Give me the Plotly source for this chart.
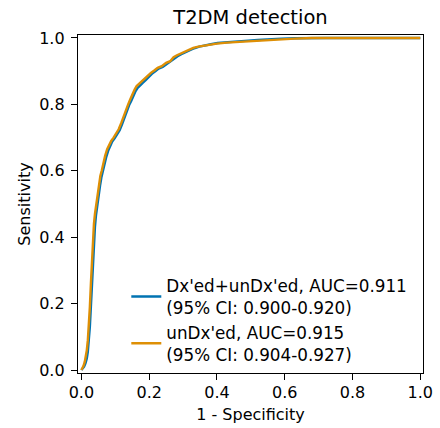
import plotly.graph_objects as go

# Dx'ed+unDx'ed ROC curve
fpr_all = [0, .004, .008, .012, .016, .019, .022, .025, .028, .031,
           .034, .037, .040, .043, .047, .051, .055, .059, .063, .068,
           .073, .079, .085, .091, .098, .105, .113, .120, .127, .132,
           .136, .141, .147, .153, .160, .166, .173, .181, .189, .198,
           .208, .218, .228, .240, .252, .264, .274, .284, .295, .308,
           .320, .333, .348, .364, .382, .402, .432, .462, .492, .520,
           .550, .590, .630, .675, .720, .800, .900, 1.0]
tpr_all = [0, .004, .01, .02, .035, .055, .085, .13, .19, .26,
           .33, .39, .43, .465, .50, .53, .555, .58, .60, .62,
           .64, .66, .675, .688, .698, .708, .722, .74, .76, .775,
           .79, .798, .81, .825, .84, .85, .858, .865, .872, .882,
           .892, .9, .908, .913, .922, .93, .938, .945, .951, .958,
           .964, .969, .974, .978, .981, .985, .988, .99, .992, .994,
           .996, .998, .999, 1, 1, 1, 1, 1]

# unDx'ed ROC curve
fpr_un = [0, .003, .006, .010, .013, .016, .019, .022, .025, .028,
          .031, .034, .037, .040, .044, .048, .052, .056, .060, .065,
          .070, .076, .082, .088, .095, .102, .110, .118, .125, .130,
          .134, .138, .144, .150, .157, .163, .170, .178, .186, .195,
          .205, .215, .225, .237, .250, .262, .272, .282, .292, .305,
          .318, .330, .345, .362, .380, .400, .430, .460, .490, .520,
          .550, .590, .630, .680, .720, .800, .900, 1.0]
tpr_un = [0, .005, .012, .025, .04, .06, .09, .13, .19, .26,
          .33, .39, .44, .47, .50, .53, .56, .585, .60, .625,
          .645, .665, .68, .69, .70, .71, .725, .745, .765, .78,
          .795, .80, .815, .83, .845, .855, .862, .868, .875, .885,
          .895, .902, .91, .915, .925, .93, .942, .948, .953, .96,
          .966, .97, .974, .977, .98, .983, .986, .988, .99, .992,
          .994, .996, .998, 1, 1, 1, 1, 1]

labels = ["Dx'ed+unDx'ed, AUC=0.911<br>(95% CI: 0.900-0.920)",
          "unDx'ed, AUC=0.915<br>(95% CI: 0.904-0.927)"]
colors = ["#0173B2", "#DE8F05"]
ticks = [0.0, 0.2, 0.4, 0.6, 0.8, 1.0]
tick_text = ["0.0", "0.2", "0.4", "0.6", "0.8", "1.0"]

FONT = "DejaVu Sans"

fig = go.Figure()
fig.add_trace(go.Scatter(x=fpr_all, y=tpr_all, mode="lines", name=labels[0],
                         line=dict(color=colors[0], width=2.4)))
fig.add_trace(go.Scatter(x=fpr_un, y=tpr_un, mode="lines", name=labels[1],
                         line=dict(color=colors[1], width=2.4)))

axis_common = dict(
    showgrid=False, zeroline=False, showline=True, linecolor="black",
    linewidth=1.3, mirror=True, ticks="outside", ticklen=6, tickwidth=1.3,
    tickcolor="black", tickfont=dict(family=FONT, size=16, color="black"),
    tickvals=ticks, ticktext=tick_text, automargin=False,
)

fig.update_layout(
    width=440, height=428,
    margin=dict(l=78, r=17, t=35, b=55),
    paper_bgcolor="white", plot_bgcolor="white",
    font=dict(family=FONT, size=16, color="black"),
    title=dict(text="T2DM detection", x=0.5, xref="paper", xanchor="center",
               y=1 - 17.5 / 428, yref="container", yanchor="middle",
               font=dict(family=FONT, size=19.5, color="black"), automargin=False),
    xaxis=dict(range=[-0.01, 1.008],
               title=dict(text="1 - Specificity", standoff=7,
                          font=dict(family=FONT, size=16)),
               ticklabelstandoff=-1,
               **axis_common),
    yaxis=dict(range=[-0.009, 1.009],
               title=dict(text="Sensitivity", standoff=4,
                          font=dict(family=FONT, size=16)),
               ticklabelstandoff=3,
               **axis_common),
    legend=dict(x=0.14, y=0.31, xanchor="left", yanchor="top",
                bgcolor="rgba(0,0,0,0)", borderwidth=0,
                font=dict(family=FONT, size=16.8, color="black"),
                tracegroupgap=2),
    showlegend=True,
)

fig.write_html("out.html")
